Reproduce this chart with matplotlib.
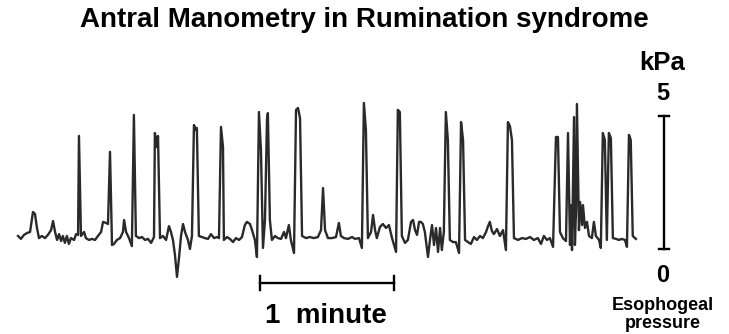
import matplotlib
matplotlib.use("Agg")
import matplotlib.pyplot as plt

# antral pressure trace (time in s, pressure in kPa)
time_s = [
    0, 1.3, 2.7, 4.0, 5.4, 6.7, 7.6, 8.5, 9.4, 10.7, 12.1, 13.4, 14.8, 15.7,
    16.6, 17.5, 18.4, 19.3, 20.1, 21.0, 21.9, 22.8, 23.7, 25.1, 26.0, 26.9,
    27.3, 28.2, 29.6, 30.4, 31.8, 33.1, 34.5, 35.8, 37.2, 38.1, 39.4, 40.3,
    41.2, 42.1, 43.0, 44.3, 45.7, 47.0, 47.5, 48.4, 49.7, 51.0, 51.9, 52.8,
    54.2, 55.5, 56.9, 58.2, 59.6, 60.9, 61.3, 62.2, 62.7, 63.6, 64.9, 66.3,
    67.6, 68.5, 69.4, 70.3, 71.2, 72.1, 73.0, 73.9, 74.8, 76.1, 77.0, 77.9,
    78.8, 79.7, 80.1, 81.0, 82.4, 83.7, 85.1, 86.4, 87.8, 89.1, 90.0, 90.9,
    91.8, 92.2, 93.6, 94.9, 96.3, 97.6, 99.0, 100.3, 101.6, 102.5, 103.9,
    104.8, 106.1, 107.0, 107.9, 108.8, 109.7, 110.6, 111.5, 111.9, 112.8,
    113.7, 115.1, 116.4, 117.8, 119.1, 120.0, 121.3, 122.2, 123.6, 124.5,
    125.4, 126.3, 127.2, 129.0, 130.7, 132.5, 134.3, 135.7, 136.6, 137.5,
    138.8, 140.6, 142.4, 143.7, 144.6, 146.0, 147.8, 149.6, 150.9, 152.7,
    154.0, 154.9, 155.8, 156.7, 158.1, 159.0, 159.9, 160.7, 162.1, 163.4,
    164.8, 166.1, 167.5, 169.3, 170.1, 171.0, 171.9, 173.3, 174.6, 176.0,
    176.9, 177.8, 178.7, 179.6, 180.4, 181.3, 182.2, 183.6, 184.5, 185.4,
    186.3, 187.2, 188.1, 189.0, 189.8, 190.7, 191.6, 192.5, 193.4, 194.8,
    196.1, 197.5, 198.4, 199.3, 200.2, 201.5, 202.8, 204.2, 205.5, 206.9,
    208.2, 209.6, 210.5, 211.3, 212.2, 213.1, 214.5, 215.8, 217.2, 218.5,
    219.4, 220.3, 221.2, 222.1, 223.9, 225.7, 227.5, 229.3, 231.0, 232.8,
    234.2, 235.5, 236.9, 238.2, 239.6, 240.9, 241.8, 242.7, 244.0, 245.4,
    246.3, 247.2, 247.6, 248.1, 249.0, 249.4, 249.9, 250.3, 251.2, 251.7,
    252.6, 253.0, 253.9, 254.8, 255.7, 257.0, 257.9, 258.8, 260.2, 261.0,
    261.9, 262.8, 263.7, 264.6, 265.5, 266.4, 267.8, 269.1, 270.4, 271.8,
    272.7, 273.6, 274.4, 275.3, 276.7,
]
pressure_kpa = [
    0.49, 0.38, 0.53, 0.60, 0.64, 1.39, 1.32, 0.79, 0.41, 0.49, 0.41, 0.53, 0.71, 1.05,
    0.64, 0.34, 0.56, 0.30, 0.49, 0.23, 0.49, 0.19, 0.41, 0.34, 0.56, 0.53,
    4.25, 0.49, 0.64, 0.41, 0.34, 0.38, 0.34, 0.49, 0.64, 1.02, 0.98, 0.94,
    3.65, 0.15, 0.19, 0.34, 0.41, 0.64, 1.09, 0.64, 0.41, 0.11, 5.04, 0.49,
    0.41, 0.45, 0.34, 0.38, 0.23, 0.45, 4.36, 3.83, 4.25, 0.41, 0.49, 0.34,
    0.86, 0.64, 0.34, -0.23, -1.05, -0.34, 0.49, 0.94, 0.64, 0.34, 0.00, 0.49,
    4.66, 4.47, 4.55, 0.49, 0.45, 0.41, 0.38, 0.56, 0.41, 0.45, 0.41, 4.59,
    3.83, 0.34, 0.45, 0.38, 0.26, 0.41, 0.34, 0.45, 0.90, 1.02, 0.94,
    0.71, 0.34, -0.30, 5.15, 3.72, 0.04, 1.09, 4.85, 5.11, 1.09,
    0.34, 0.49, 0.41, 0.38, 0.64, 0.41, 0.90, 0.34, -0.15, 5.23,
    5.30, 4.92, 0.49, 0.41, 0.45, 0.41, 0.45, 0.71, 2.29, 0.71,
    0.41, 0.41, 0.45, 0.98, 0.49, 0.41, 0.38, 0.45, 0.38, 0.41,
    0.04, 5.49, 4.47, 0.41, 0.64, 1.28, 0.71, 0.41, 0.83, 0.94,
    0.79, 0.90, 0.41, -0.11, 5.23, 5.15, 0.49, 0.23, 0.34, 1.02,
    1.09, 0.71, 0.53, 1.02, 1.02, 0.94, 0.64, -0.30, 0.34, 0.90,
    0.15, 0.79, -0.11, 0.79, -0.04, 0.64, 5.15, 4.10, 0.34, 0.26,
    0.26, -0.15, 4.77, 4.10, 0.34, 0.26, 0.19, 0.45, 0.34, 0.49,
    0.41, 0.64, 0.86, 1.02, 0.68, 0.56, 0.75, 0.49, 0.71, -0.04,
    4.77, 4.62, 4.10, 0.41, 0.34, 0.41, 0.38, 0.45, 0.34, 0.41,
    0.19, 0.49, 0.34, 0.41, 0.08, 4.21, 4.21, 0.64, 0.41, 0.30,
    4.36, 0.15, 1.65, -0.04, 4.96, 0.15, 1.47, 5.45, 0.71, 1.77,
    0.90, 1.65, 0.79, 1.02, 0.49, 0.41, 1.02, 0.49, 0.34, 0.04,
    4.36, 4.10, 0.34, 4.36, 4.17, 0.41, 0.38, 0.34, 0.38, 0.34,
    0.08, 4.29, 4.10, 0.49, 0.38,
]

# calibration bars
minute_bar = [108.4, 168.4]   # s
minute_bar_level = -1.28      # kPa (drawn below the trace)
kpa_bar = [0, 5]              # kPa
kpa_bar_time = 289.3          # s

fig = plt.figure(figsize=(7.29, 3.34), dpi=100)
ax = fig.add_axes([0, 0, 1, 1])
ax.set_xlim(-8.06, 318.4)
ax.set_ylim(-3.195, 9.36)
ax.axis('off')

ax.plot(time_s, pressure_kpa, color='#2a2a2a', linewidth=1.7, solid_joinstyle='round')

# 1 minute bar
ax.plot(minute_bar, [minute_bar_level] * 2, color='black', linewidth=1.7)
for t in minute_bar:
    ax.plot([t, t], [minute_bar_level - 0.25, minute_bar_level + 0.25], color='black', linewidth=1.7)

# 5 kPa bar
ax.plot([kpa_bar_time] * 2, kpa_bar, color='black', linewidth=1.7)
for p in kpa_bar:
    ax.plot([kpa_bar_time - 2.2, kpa_bar_time + 2.2], [p, p], color='black', linewidth=1.7)


def label(x, y, s, size):
    # x, y in pixels from top-left, y = baseline
    fig.text(x / 729, 1 - y / 334, s, ha='center', va='baseline',
             fontsize=size, fontweight='bold', family='Liberation Sans')


label(364, 27, 'Antral Manometry in Rumination syndrome', 20)
label(326, 323, '1  minute', 20)
label(662, 70, 'kPa', 18.5)
label(663, 100, '5', 17)
label(663, 282, '0', 17)
label(663, 310, 'Esophogeal', 13)
label(663, 328.5, 'pressure', 13)

fig.savefig('out.png', dpi=100)
